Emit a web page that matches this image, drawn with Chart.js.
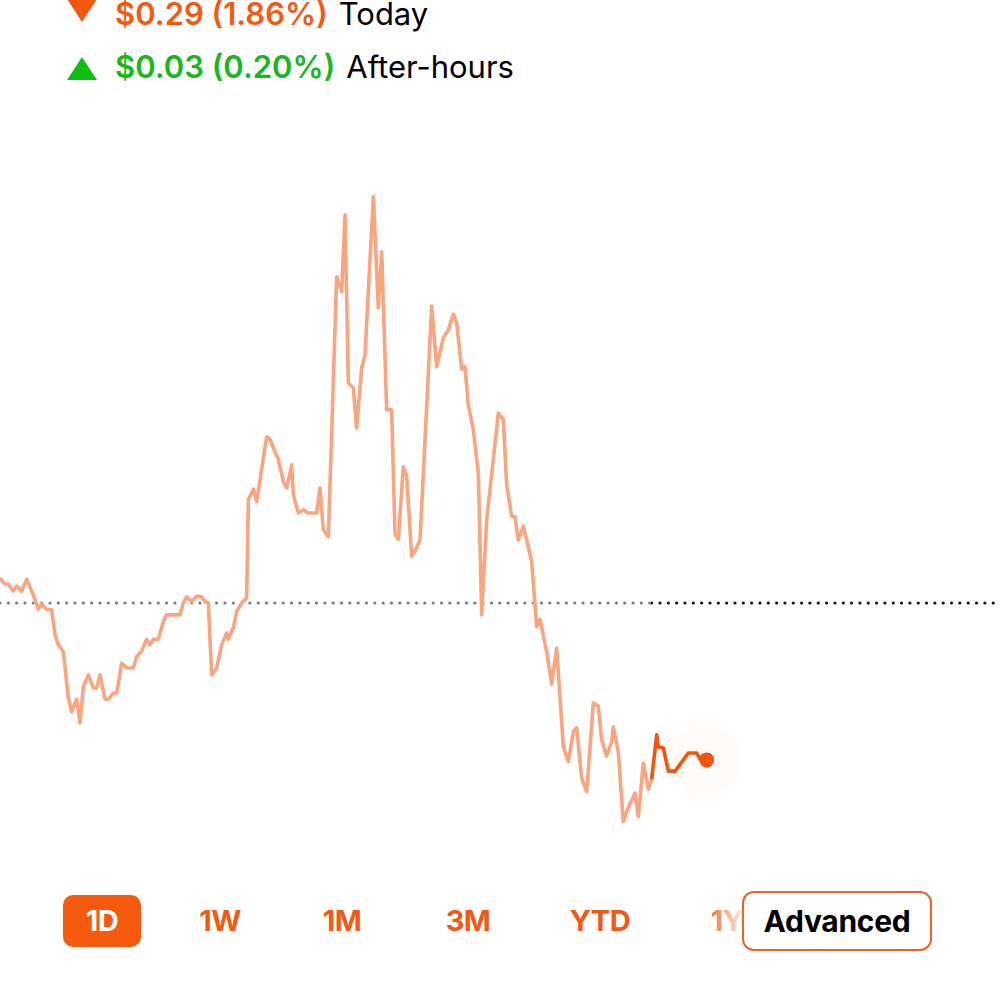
<!DOCTYPE html>
<html>
<head>
<meta charset="utf-8">
<script src="https://cdn.jsdelivr.net/npm/chart.js@4.4.0/dist/chart.umd.min.js"></script>
<style>
    body { margin: 0; width: 1000px; height: 1000px; background: #fff; overflow: hidden; position: relative; font-family: Inter, "Noto Sans", sans-serif; }
    .row { position: absolute; left: 115px; font-size: 31px; line-height: 31px; white-space: nowrap; }
    .row b { font-weight: 600; margin-right: 11px; }
    .down { color: #f05a14; }
    .up { color: #1cb51c; }
    .tri { position: absolute; left: 67px; width: 30px; height: 23px; }
    .tri-down { top: -1px; background: #f35710; clip-path: polygon(0 0, 100% 0, 50% 100%); }
    .tri-up { top: 57px; background: #10c010; clip-path: polygon(50% 0, 100% 100%, 0 100%); }
    #priceChart { position: absolute; left: 0; top: 153px; }
    .range { position: absolute; top: 903px; width: 90px; margin-left: -45px; text-align: center; font-size: 29px; line-height: 36px; font-weight: 700; color: #f05a14; letter-spacing: -0.5px; }
    .range.active { top: 895px; left: 63px; width: 78px; height: 52px; margin-left: 0; line-height: 52px; background: #f55a0f; color: #fff; border-radius: 10px; }
    .fade { position: absolute; left: 704px; top: 895px; width: 40px; height: 52px; background: linear-gradient(to right, rgba(255,255,255,0), rgba(255,255,255,0.9)); }
    .advanced { position: absolute; left: 742px; top: 891px; width: 186px; height: 56px; border: 2px solid #e9622c; border-radius: 12px; background: #fff; text-align: center; line-height: 56px; font-size: 30px; font-weight: 700; color: #000; letter-spacing: -0.3px; }
</style>
</head>
<body>
<div class="tri tri-down"></div>
<div class="row" style="top:-2px"><b class="down">$0.29 (1.86%)</b>Today</div>
<div class="tri tri-up"></div>
<div class="row" style="top:51px"><b class="up">$0.03 (0.20%)</b>After-hours</div>

<canvas id="priceChart" width="1000" height="700"></canvas>

<div class="range active">1D</div>
<div class="range" style="left:220px">1W</div>
<div class="range" style="left:342px">1M</div>
<div class="range" style="left:468px">3M</div>
<div class="range" style="left:600px">YTD</div>
<div class="range" style="left:727px">1Y</div>
<div class="fade"></div>
<div class="advanced">Advanced</div>

<script>
// Previous close (dotted line) and the minute the regular session ends
const prevClose = 15.59;
const sessionEnd = 391;
const dayEnd = 600;

// Regular session: minutes after 9:30 and price
const regMinutes = [0, 3, 5, 8, 10, 13, 16, 19, 20, 23, 25, 28, 31, 33, 35, 38, 41, 43, 46, 48,
    50, 53, 56, 58, 60, 63, 65, 68, 70, 73, 76, 80, 82, 85, 88, 90, 92, 95, 98, 100,
    108, 110, 112, 115, 118, 121, 123, 125, 127, 130, 133, 136, 137, 140, 142, 145, 148, 149, 152, 154,
    160, 162, 165, 167, 170, 172, 175, 176, 179, 182, 185, 190, 192, 194, 197, 202, 205, 207, 209, 212,
    214, 217, 219, 224, 227, 229, 232, 235, 237, 239, 242, 244, 247, 249, 252, 259, 262, 266, 269, 272,
    274, 277, 279, 281, 284, 287, 289, 292, 299, 302, 304, 307, 309, 311, 314, 317, 319, 322, 324, 328,
    331, 334, 338, 341, 344, 346, 349, 352, 356, 359, 361, 364, 367, 368, 371, 374, 376, 381, 383, 386,
    389, 391];
const regPrices = [15.63, 15.62, 15.62, 15.609, 15.617, 15.609, 15.628, 15.609, 15.603, 15.58, 15.588, 15.58, 15.579, 15.539, 15.523, 15.512, 15.438, 15.416, 15.436, 15.398,
    15.456, 15.475, 15.454, 15.454, 15.475, 15.436, 15.436, 15.446, 15.446, 15.494, 15.486, 15.486, 15.504, 15.513, 15.532, 15.523, 15.532, 15.532, 15.56, 15.571,
    15.571, 15.59, 15.6, 15.592, 15.601, 15.6, 15.592, 15.59, 15.475, 15.486, 15.523, 15.542, 15.532, 15.55, 15.576, 15.59, 15.598, 15.755, 15.772, 15.752,
    15.856, 15.852, 15.832, 15.82, 15.784, 15.774, 15.811, 15.763, 15.734, 15.739, 15.734, 15.734, 15.774, 15.707, 15.696, 16.112, 16.088, 16.211, 15.942, 15.934,
    15.87, 15.966, 15.987, 16.24, 16.062, 16.152, 15.899, 15.899, 15.7, 15.692, 15.808, 15.793, 15.665, 15.673, 15.691, 16.065, 15.968, 16.014, 16.027, 16.052,
    16.038, 15.964, 15.968, 15.907, 15.867, 15.798, 15.571, 15.723, 15.894, 15.883, 15.779, 15.729, 15.728, 15.691, 15.713, 15.68, 15.656, 15.552, 15.564, 15.512,
    15.46, 15.518, 15.36, 15.336, 15.384, 15.39, 15.31, 15.288, 15.43, 15.425, 15.371, 15.345, 15.368, 15.392, 15.35, 15.24, 15.256, 15.286, 15.248, 15.334,
    15.292, 15.308];

// After-hours trading
const ahMinutes = [391, 394, 395, 398, 401, 405, 410, 413, 418, 420, 424];
const ahPrices = [15.308, 15.379, 15.36, 15.358, 15.321, 15.321, 15.339, 15.35, 15.35, 15.34, 15.339];

// Colors
const lightOrange = '#f8a580';
const darkOrange = '#f2560e';

// Function to zip minutes and prices into {x, y} points
function toPoints(minutes, prices) {
    return minutes.map((m, i) => ({ x: m, y: prices[i] }));
}

const lastPoint = { x: ahMinutes[ahMinutes.length - 1], y: ahPrices[ahPrices.length - 1] };

// Dotted line style shared by both halves
function dotted(color, from, to, order) {
    return {
        data: [{ x: from, y: prevClose }, { x: to, y: prevClose }],
        borderColor: color,
        borderWidth: 3.2,
        borderDash: [0, 8.33],
        borderCapStyle: 'round',
        pointRadius: 0,
        order: order
    };
}

const ctx = document.getElementById('priceChart').getContext('2d');
var chart = new Chart(ctx, {
    type: 'line',
    data: {
        datasets: [
            // endpoint dot
            { data: [lastPoint], pointRadius: 7.5, pointBackgroundColor: darkOrange, pointBorderWidth: 0, showLine: false, order: 0 },
            // after-hours line
            { data: toPoints(ahMinutes, ahPrices), borderColor: darkOrange, borderWidth: 3.6, pointRadius: 0, borderJoinStyle: 'round', order: 1 },
            // regular session line
            { data: toPoints(regMinutes, regPrices), borderColor: lightOrange, borderWidth: 3.6, pointRadius: 0, borderJoinStyle: 'round', order: 2 },
            // halo around the last price
            { data: [lastPoint], pointRadius: 35, pointBackgroundColor: 'rgba(242, 86, 14, 0.025)', pointBorderWidth: 0, showLine: false, order: 3 },
            dotted('#7a7a7a', 0, sessionEnd, 4),
            dotted('#111111', sessionEnd, dayEnd + 10, 5)
        ]
    },
    options: {
        responsive: false,
        animation: false,
        clip: false,
        layout: { padding: 0, autoPadding: false },
        elements: { line: { tension: 0 } },
        plugins: { legend: { display: false }, tooltip: { enabled: false } },
        scales: {
            x: { type: 'linear', min: 0, max: dayEnd, display: false },
            y: { min: 15.19, max: 16.31, display: false }
        }
    }
});
</script>
</body>
</html>
